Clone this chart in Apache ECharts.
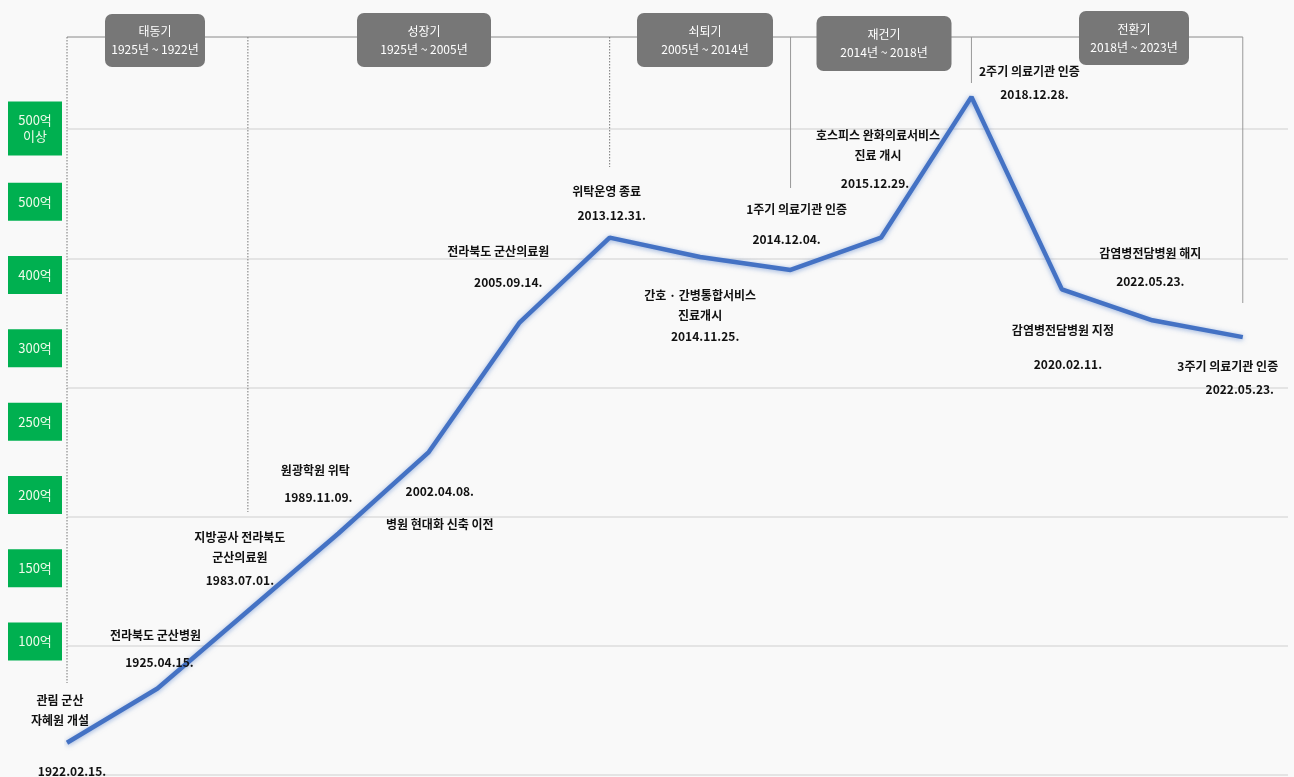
<!DOCTYPE html>
<html><head><meta charset="utf-8">
<script src="https://cdn.jsdelivr.net/npm/echarts@6/dist/echarts.min.js"></script>
<style>html,body{margin:0;padding:0;background:#f9f9f9}#c{width:1294px;height:777px}</style>
</head><body><div id="c"></div>
<script>
// ---- data ----
const eventNames = ['관림 군산\n자혜원 개설', '전라북도 군산병원', '지방공사 전라북도\n군산의료원', '원광학원 위탁', '병원 현대화 신축 이전', '전라북도 군산의료원', '위탁운영 종료', '간호 · 간병통합서비스\n진료개시', '1주기 의료기관 인증', '호스피스 완화의료서비스\n진료 개시', '2주기 의료기관 인증', '감염병전담병원 지정', '감염병전담병원 해지', '3주기 의료기관 인증'];
const eventDates = ['1922.02.15.', '1925.04.15.', '1983.07.01.', '1989.11.09.', '2002.04.08.', '2005.09.14.', '2013.12.31.', '2014.11.25.', '2014.12.04.', '2015.12.29.', '2018.12.28.', '2020.02.11.', '2022.05.23.', '2022.05.23.'];
const eventValues = [25, 67, 127, 187, 250, 350, 416, 401, 391, 416, 525, 376, 352, 339];
const yTickLabels = ['100억', '150억', '200억', '250억', '300억', '400억', '500억', '500억\n이상'];
const phaseNames = ['태동기', '성장기', '쇠퇴기', '재건기', '전환기'];
const phaseRanges = ['1925년 ~ 1922년', '1925년 ~ 2005년', '2005년 ~ 2014년', '2014년 ~ 2018년', '2018년 ~ 2023년'];
const phaseBoundaryIdx = [0, 2, 6, 8, 10, 13];

// ---- layout (label offsets, decorations) ----
const nameOffsets = [[-7,-32],[-2,-53],[-8,-64],[-23,-63],[11,72],[-21,-71],[-3,-46],[0,48],[6,-61],[-3,-92],[58,-25],[1,41],[-2,-67],[-15,29]];
const dateOffsets = [[5,29],[2,-26],[-8,-31],[-20,-36],[11,39],[-11,-40],[2,-22],[5,79],[-4,-31],[-6,-54],[63,-2],[6,75],[-2,-39],[-3,52]];
const boundaryEndY = [683, 512, 167, 188, 83, 303];
const boundaryDotted = [true, true, true, false, false, false];
const phaseBoxes = [
  {cx: 155, y: 14, w: 100, h: 53},
  {cx: 424, y: 13, w: 134, h: 54},
  {cx: 705, y: 13, w: 136, h: 54},
  {cx: 884, y: 16, w: 135, h: 55},
  {cx: 1134, y: 11, w: 110, h: 54}
];

const FONT = '"Noto Sans CJK KR", "Noto Sans", sans-serif';
const chart = echarts.init(document.getElementById('c'));

const nameData = eventValues.map((v, i) => ({
  value: [i, v],
  label: { offset: nameOffsets[i], formatter: eventNames[i] }
}));
const dateData = eventValues.map((v, i) => ({
  value: [i, v],
  label: { offset: dateOffsets[i], formatter: eventDates[i] }
}));

const labelBase = {
  show: true, position: 'inside', color: '#111111', fontFamily: FONT,
  fontSize: 12, fontWeight: 'bold', lineHeight: 20, align: 'center', verticalAlign: 'middle'
};

chart.setOption({
  backgroundColor: '#f9f9f9',
  animation: false,
  grid: [
    { left: 67, right: 6, top: -1.4, bottom: 2 },
    { left: 35, width: 1, top: 91.85, height: 586.3 }
  ],
  xAxis: [
    { type: 'value', gridIndex: 0, min: 0, max: 13.5, show: false },
    { type: 'value', gridIndex: 1, show: false }
  ],
  yAxis: [
    { type: 'value', gridIndex: 0, min: 0, max: 600, interval: 100,
      axisLine: { show: false }, axisTick: { show: false }, axisLabel: { show: false },
      splitLine: { show: true, showMaxLine: false, lineStyle: { color: '#dcdcdc', width: 1.5 } } },
    { type: 'category', gridIndex: 1, data: yTickLabels,
      axisLine: { show: false }, axisTick: { show: false }, splitLine: { show: false },
      axisLabel: { align: 'center', margin: 0, width: 54, padding: [11, 0], lineHeight: 16,
        backgroundColor: '#00b050', color: '#eefbea', fontSize: 13, fontFamily: FONT } }
  ],
  series: [
    { type: 'line', xAxisIndex: 0, yAxisIndex: 0, data: nameData,
      symbol: 'circle', symbolSize: 1, showAllSymbol: true,
      itemStyle: { color: 'rgba(0,0,0,0)' },
      lineStyle: { color: '#4472c4', width: 4.5, shadowBlur: 5, shadowColor: 'rgba(68,114,196,0.55)', shadowOffsetY: 1 },
      label: labelBase, z: 3 },
    { type: 'line', xAxisIndex: 0, yAxisIndex: 0, data: dateData,
      symbol: 'circle', symbolSize: 1, showAllSymbol: true,
      itemStyle: { color: 'rgba(0,0,0,0)' },
      lineStyle: { width: 0, opacity: 0 },
      label: labelBase, z: 3 }
  ]
});

// decorations: phase timeline header
const bx = phaseBoundaryIdx.map(i => chart.convertToPixel({ gridIndex: 0 }, [i, 0])[0]);
const topY = 37;
const g = [];
g.push({ type: 'line', shape: { x1: bx[0], y1: topY, x2: bx[bx.length - 1], y2: topY }, style: { stroke: '#8a8a8a', lineWidth: 1 }, z: 1 });
bx.forEach((x, k) => {
  g.push({ type: 'line', shape: { x1: x, y1: topY, x2: x, y2: boundaryEndY[k] },
    style: { stroke: boundaryDotted[k] ? '#777' : '#999', lineWidth: 1, lineDash: boundaryDotted[k] ? [1.5, 1.5] : null }, z: 1 });
});
phaseBoxes.forEach((b, k) => {
  g.push({ type: 'rect', shape: { x: b.cx - b.w / 2, y: b.y, width: b.w, height: b.h, r: 7 },
    style: { fill: '#777777' }, z: 5 });
  g.push({ type: 'text', x: b.cx, y: b.y + b.h / 2, z: 6,
    style: { text: phaseNames[k] + '\n' + phaseRanges[k], fill: '#ffffff', font: '12px ' + FONT,
      textAlign: 'center', textVerticalAlign: 'middle', lineHeight: 18 } });
});
chart.setOption({ graphic: g });
</script>
</body></html>
